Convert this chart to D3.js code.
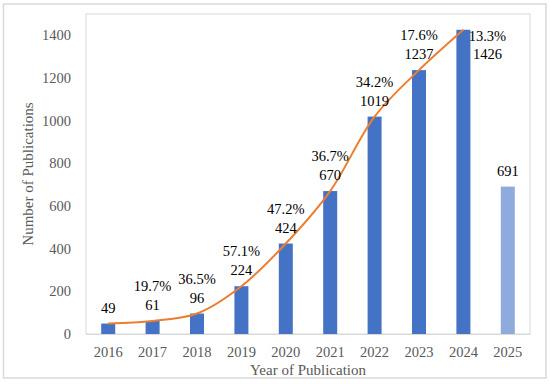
<!DOCTYPE html>
<html><head><meta charset="utf-8">
<script src="https://cdn.jsdelivr.net/npm/d3@7"></script>
<style>body{margin:0;background:#fff}svg{display:block}text{font-family:"Liberation Serif","DejaVu Serif",serif}</style>
</head><body><svg id="c" width="550" height="384"></svg>
<script>
const years = ["2016","2017","2018","2019","2020","2021","2022","2023","2024","2025"];
const counts = [49,61,96,224,424,670,1019,1237,1426,691];
const growth = [null,"19.7%","36.5%","57.1%","47.2%","36.7%","34.2%","17.6%","13.3%",null];
const partialYear = "2025";
const yTicks = [0,200,400,600,800,1000,1200,1400];

const svg = d3.select("#c");
const m = {l:86, r:530, t:14, b:334};
svg.append("rect").attr("x",3.5).attr("y",4).attr("width",542.5).attr("height",374)
  .attr("fill","#fff").attr("stroke","#d9d9d9").attr("stroke-width",1.5);
svg.append("rect").attr("x",m.l).attr("y",m.t).attr("width",m.r-m.l).attr("height",m.b-m.t)
  .attr("fill","none").attr("stroke","#d9d9d9").attr("stroke-width",1);

const x = d3.scaleBand().domain(years).range([m.l,m.r]).paddingInner(0).paddingOuter(0);
const y = d3.scaleLinear().domain([0,1500]).range([m.b,m.t]);
const bw = 14;
const cx = d => x(d) + x.bandwidth()/2;
const fs = 14.5;

// axes
const ya = svg.append("g").attr("transform",`translate(${m.l-15},0)`)
  .call(d3.axisLeft(y).tickValues(yTicks).tickFormat(d3.format("d")).tickSize(0).tickPadding(0));
ya.select(".domain").remove();
ya.selectAll("text").attr("font-size",fs).attr("fill","#595959").attr("dy","0.32em");
const xa = svg.append("g").attr("transform",`translate(0,${m.b})`)
  .call(d3.axisBottom(x).tickSize(0).tickPadding(13));
xa.select(".domain").attr("stroke","#d9d9d9");
xa.selectAll("text").attr("font-size",fs).attr("fill","#595959");

// bars
svg.selectAll(".bar").data(years).join("rect").attr("class","bar")
  .attr("x",d=>cx(d)-bw/2).attr("width",bw)
  .attr("y",(d,i)=>y(counts[i])).attr("height",(d,i)=>y(0)-y(counts[i]))
  .attr("fill",d=>d===partialYear?"#8faadc":"#4472c4");

// line (complete years only)
const lineData = years.map((d,i)=>({d,v:counts[i]})).filter(p=>p.d!==partialYear);
svg.append("path").datum(lineData)
  .attr("d",d3.line().x(p=>cx(p.d)).y(p=>y(p.v)).curve(d3.curveCatmullRom.alpha(0.5)))
  .attr("fill","none").attr("stroke","#ed7d31").attr("stroke-width",2);

// labels
years.forEach((d,i)=>{
  const top = y(counts[i]);
  const side = top - 35 < m.t + 5;
  const lx = side ? cx(d)+24 : cx(d);
  const vy = side ? top + 29 : top - 11;
  const py = side ? top + 11 : top - 30;
  svg.append("text").attr("x",lx).attr("y",vy).attr("text-anchor","middle")
    .attr("font-size",fs).attr("fill","#000").text(counts[i]);
  if (growth[i]) svg.append("text").attr("x",lx).attr("y",py).attr("text-anchor","middle")
    .attr("font-size",fs).attr("fill","#000").text(growth[i]);
});

// titles
svg.append("text").attr("x",(m.l+m.r)/2).attr("y",375).attr("text-anchor","middle")
  .attr("font-size",15).attr("fill","#595959").text("Year of Publication");
svg.append("text").attr("transform",`translate(33,${(m.t+m.b)/2}) rotate(-90)`)
  .attr("text-anchor","middle").attr("font-size",15).attr("fill","#595959").text("Number of Publications");
</script></body></html>
